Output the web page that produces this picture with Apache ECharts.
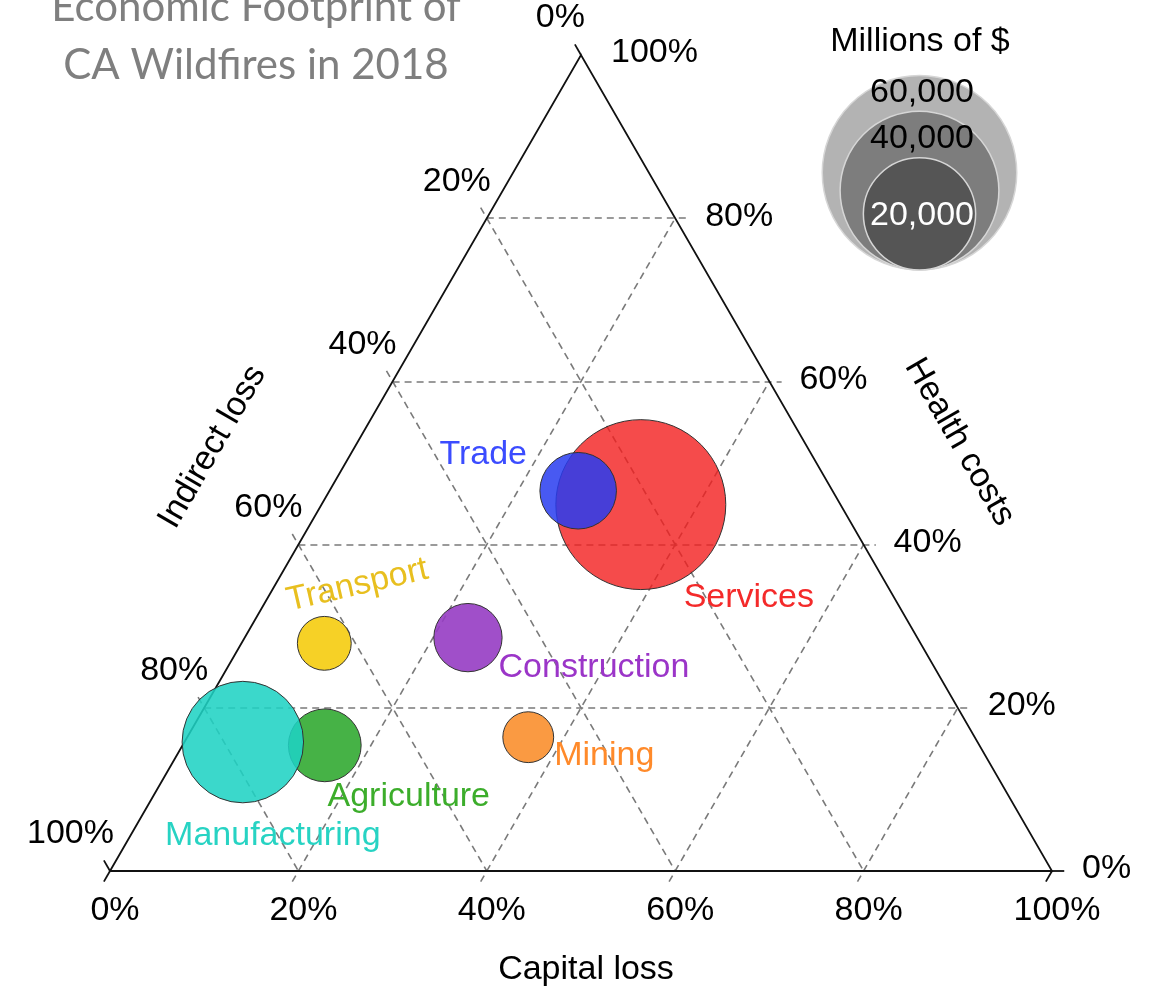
<!DOCTYPE html>
<html><head><meta charset="utf-8">
<script src="https://cdn.jsdelivr.net/npm/echarts@6/dist/echarts.min.js"></script>
<style>html,body{margin:0;padding:0;background:#fff}#c{width:1153px;height:988px}</style>
</head><body><div id="c"></div>
<script>
// ---------------- data ----------------
const sectors      = ['Services','Trade','Construction','Transport','Mining','Agriculture','Manufacturing'];
const capitalLoss  = [33.9, 26.4, 23.7,  8.8, 36.2, 15.1,  6.2];   // %
const healthCosts  = [44.9, 46.6, 28.6, 27.9, 16.4, 15.4, 15.8];   // %
const indirectLoss = [21.2, 27.0, 47.7, 63.3, 47.4, 69.5, 78.0];   // %
const totalLoss    = [45800, 9300, 7400, 4600, 4100, 8400, 23400]; // millions of $
const tickValues   = [0, 20, 40, 60, 80, 100];
const tickLabels   = ['0%','20%','40%','60%','80%','100%'];
const legendValues = [60000, 40000, 20000];
const legendLabels = ['60,000','40,000','20,000'];
const axisNames    = ['Capital loss','Health costs','Indirect loss'];
const legendTitle  = 'Millions of $';
const titleLines   = ['Economic Footprint of','CA Wildfires in 2018'];

// ---------------- styles ----------------
const FONT = 'Liberation Sans';
const FS = 34;
const sectorFill  = ['rgba(242,30,30,0.8)','rgba(40,60,240,0.85)','rgba(150,60,195,0.9)','rgba(245,205,20,0.92)',
                     'rgba(250,145,50,0.92)','rgba(50,170,50,0.9)','rgba(30,210,195,0.87)'];
const sectorText  = ['#f42a2a','#3b4cff','#9b35c8','#e8bf1f','#ff8a2a','#3cad2b','#27d3c3'];
const sectorLabelOffset = [[108,93],[-95,-36],[126,30],[33,-58],[76,18],[84,51],[30,94]];
const sectorLabelRotate = [0,0,0,13,0,0,0];
const K = 0.397; // radius px per sqrt(million $)
const radius = v => K * Math.sqrt(v);
const T = 1.3;   // tick length in percent

// label offsets are rotated together with the label; pre-rotate so the screen offset is as wanted
function rotOffset(off, deg) {
  const t = deg * Math.PI / 180, c = Math.cos(t), s = Math.sin(t);
  return [off[0] * c - off[1] * s, off[0] * s + off[1] * c];
}

// ternary (capital c, health h, indirect i) -> cartesian
function tern(c, h, i) {
  const s = (i === undefined) ? 100 : (c + h + i);
  const cc = c / s, hh = h / s;
  return [cc + hh / 2, hh];
}

// grid lines
const gridLines = [];
[20,40,60,80].forEach(v => {
  gridLines.push({coords:[tern(v,-T), tern(v,100-v)]});            // constant capital
  gridLines.push({coords:[tern(0,v), tern(100-v+T,v)]});           // constant health
  gridLines.push({coords:[tern(-T,100-v+T), tern(100-v,0)]});      // constant indirect
});
const frame = [{coords:[tern(0,0),tern(100,0),tern(0,100),tern(0,0)]}];
const vertexTicks = [];
[0,100].forEach(v => {
  vertexTicks.push({coords:[tern(v,0), tern(v,-T)]});
  if (v === 0) vertexTicks.push({coords:[tern(100-v,v), tern(100-v+T,v)]});
  vertexTicks.push({coords:[tern(0,100-v), tern(-T,100-v+T)]});
});

const bubbleData = sectors.map((s, k) => ({
  name: s,
  value: [...tern(capitalLoss[k], healthCosts[k], indirectLoss[k]), totalLoss[k]],
  itemStyle: {color: sectorFill[k]},
  label: {color: sectorText[k], offset: rotOffset(sectorLabelOffset[k], sectorLabelRotate[k]), rotate: sectorLabelRotate[k]}
}));

const txt = {fontFamily: FONT, fontSize: FS, color: '#000', opacity: 1};
function labelSeries(data, label) {
  return {type:'scatter', symbolSize:1, silent:true, z:5,
    itemStyle:{color:'rgba(0,0,0,0)', opacity:1},
    label:Object.assign({show:true, position:'inside'}, txt, label),
    data:data};
}

const chart = echarts.init(document.getElementById('c'), null, {renderer:'canvas'});
const legendGraphics = [];
legendValues.forEach((v, k) => {
  const r = radius(v);
  legendGraphics.push({type:'circle', shape:{cx:919.5, cy:270 - r, r:r},
    style:{fill:['#b3b3b3','#7d7d7d','#555555'][k], stroke:'#d6d6d6', lineWidth:1.5}, z:10});
});
const legendTextY = [92.5, 139, 216];
legendLabels.forEach((t, k) => {
  legendGraphics.push({type:'text', x:922, y:legendTextY[k], z:11,
    style:{text:t, font:FS+'px '+FONT, fill: k===2 ? '#fff' : '#000', align:'center', verticalAlign:'middle',
           textAlign:'center', textVerticalAlign:'middle'}});
});
legendGraphics.push({type:'text', x:920, y:42, z:11,
  style:{text:legendTitle, font:FS+'px '+FONT, fill:'#000', align:'center', verticalAlign:'middle',
         textAlign:'center', textVerticalAlign:'middle'}});
const titleY = [7, 65];
titleLines.forEach((t, k) => {
  legendGraphics.push({type:'text', x:256, y:titleY[k], z:11,
    style:{text:t, font:'42px Lato', fill:'#7f7f7f', align:'center', verticalAlign:'middle',
           textAlign:'center', textVerticalAlign:'middle'}});
});

chart.setOption({
  animation:false,
  backgroundColor:'#fff',
  grid:{left:110, top:55, width:942, height:816},
  xAxis:{type:'value', min:0, max:1, show:false},
  yAxis:{type:'value', min:0, max:1, show:false},
  graphic:legendGraphics,
  series:[
    {type:'lines', coordinateSystem:'cartesian2d', polyline:false, clip:false, silent:true, z:1,
     lineStyle:{color:'#7a7a7a', width:1.6, type:[7,5], opacity:1}, data:gridLines},
    {type:'lines', coordinateSystem:'cartesian2d', polyline:true, clip:false, silent:true, z:2,
     lineStyle:{color:'#111', width:1.8, opacity:1}, data:frame},
    {type:'lines', coordinateSystem:'cartesian2d', polyline:false, clip:false, silent:true, z:2,
     lineStyle:{color:'#111', width:1.8, opacity:1}, data:vertexTicks},
    {type:'scatter', clip:false, z:3, silent:true,
     symbolSize: d => 2 * radius(d[2]),
     itemStyle:{borderColor:'#333', borderWidth:1, opacity:1},
     label:{show:true, position:'inside', fontFamily:FONT, fontSize:FS, opacity:1, formatter: p => p.name},
     data:bubbleData},
    // capital loss tick labels (bottom)
    labelSeries(tickValues.map((v,k)=>({value:tern(v,0), name:tickLabels[k]})),
      {formatter:p=>p.name, offset:[5,40]}),
    // health costs tick labels (right)
    labelSeries(tickValues.map((v,k)=>({value:tern(100-v,v), name:tickLabels[k]})),
      {formatter:p=>p.name, align:'left', verticalAlign:'middle', offset:[30,-2]}),
    // indirect loss tick labels (left)
    labelSeries(tickValues.map((v,k)=>({value:tern(0,100-v), name:tickLabels[k]})),
      {formatter:p=>p.name, align:'right', verticalAlign:'middle', offset:[4,-37]}),
    // axis titles
    labelSeries([
      {value:tern(50,0), name:axisNames[0], label:{offset:[5,99]}},
      {value:tern(50,50), name:axisNames[1], label:{offset:rotOffset([143,-21],-60), rotate:-60}},
      {value:tern(0,50), name:axisNames[2], label:{offset:rotOffset([-133,-16],60), rotate:60}}
    ], {formatter:p=>p.name})
  ]
});
</script></body></html>
